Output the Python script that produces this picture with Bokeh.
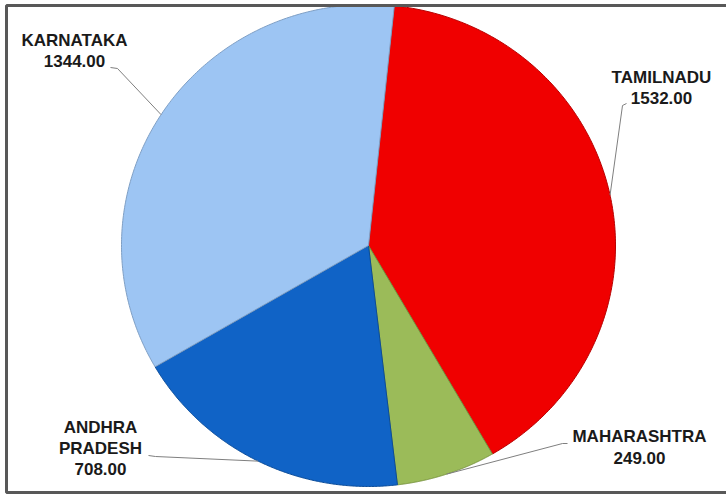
import numpy as np
from bokeh.plotting import figure
from bokeh.models import Range1d, ColumnDataSource
from bokeh.core.properties import value
from bokeh.embed import file_html
from bokeh.resources import INLINE

# Data
states = ["TAMILNADU", "MAHARASHTRA", "ANDHRA PRADESH", "KARNATAKA"]
amounts = [1532.00, 249.00, 708.00, 1344.00]
fill_colors = ["#F00000", "#9BBB59", "#1063C6", "#9DC5F3"]
edge_colors = ["#B80000", "#76923C", "#0B4C99", "#7F9FC4"]

W, H = 726, 494
p = figure(width=W, height=H, output_backend="svg", toolbar_location=None,
           x_range=Range1d(0, W), y_range=Range1d(H, 0), min_border=0)
p.axis.visible = False
p.grid.visible = False
p.outline_line_color = None
p.background_fill_color = "white"
p.border_fill_color = "white"

# Pie geometry (screen-like coordinates, y grows downward)
cx, cy, rx, ry = 368, 245, 247, 241
start_deg = 6.0

total = sum(amounts)
fracs = [a / total for a in amounts]
xs, ys, mids = [], [], []
acc = start_deg
for f in fracs:
    a0, a1 = acc, acc + f * 360.0
    t = np.radians(np.linspace(a0, a1, 200))
    xs.append([cx] + list(cx + rx * np.sin(t)))
    ys.append([cy] + list(cy - ry * np.cos(t)))
    mids.append((a0 + a1) / 2)
    acc = a1

p.patches(xs=xs, ys=ys, fill_color=fill_colors, line_color=edge_colors, line_width=1)

# Leader lines: label anchor -> elbow -> point on the slice rim
def rim(angle_deg, k=1.0):
    t = np.radians(angle_deg)
    return cx + k * rx * np.sin(t), cy - k * ry * np.cos(t)

anchors = [
    [(626, 103), (622, 105)],   # TAMILNADU
    [(567, 443), (562, 443)],   # MAHARASHTRA
    [(148, 455), (155, 456)],   # ANDHRA PRADESH
    [(110, 67), (117, 68)],     # KARNATAKA
]
for pts, m in zip(anchors, mids):
    ex, ey = rim(m)
    lx = [q[0] for q in pts] + [ex]
    ly = [q[1] for q in pts] + [ey]
    p.line(lx, ly, line_color="#7F7F7F", line_width=1)

# Data labels
label_lines = [
    (["TAMILNADU", f"{amounts[0]:.2f}"], 661, [77, 97]),
    (["MAHARASHTRA", f"{amounts[1]:.2f}"], 639, [436, 457]),
    (["ANDHRA", "PRADESH", f"{amounts[2]:.2f}"], 100, [427, 448, 468]),
    (["KARNATAKA", f"{amounts[3]:.2f}"], 74, [40, 60]),
]
tx, ty, tt = [], [], []
for lines, x, yl in label_lines:
    for s, y in zip(lines, yl):
        tx.append(x)
        ty.append(y)
        tt.append(s)
src = ColumnDataSource(dict(x=tx, y=ty, text=tt))
p.text(x="x", y="y", text="text", source=src, text_align="center",
       text_baseline="middle", text_font=value("Liberation Sans"),
       text_font_style="bold", text_font_size="17px", text_color="#1A1A1A")

# Frame around the chart area
p.quad(left=[6], right=[740], top=[5], bottom=[492], fill_color=None,
       line_color="#585858", line_width=3)

open("out.html", "w").write(file_html(p, INLINE))
